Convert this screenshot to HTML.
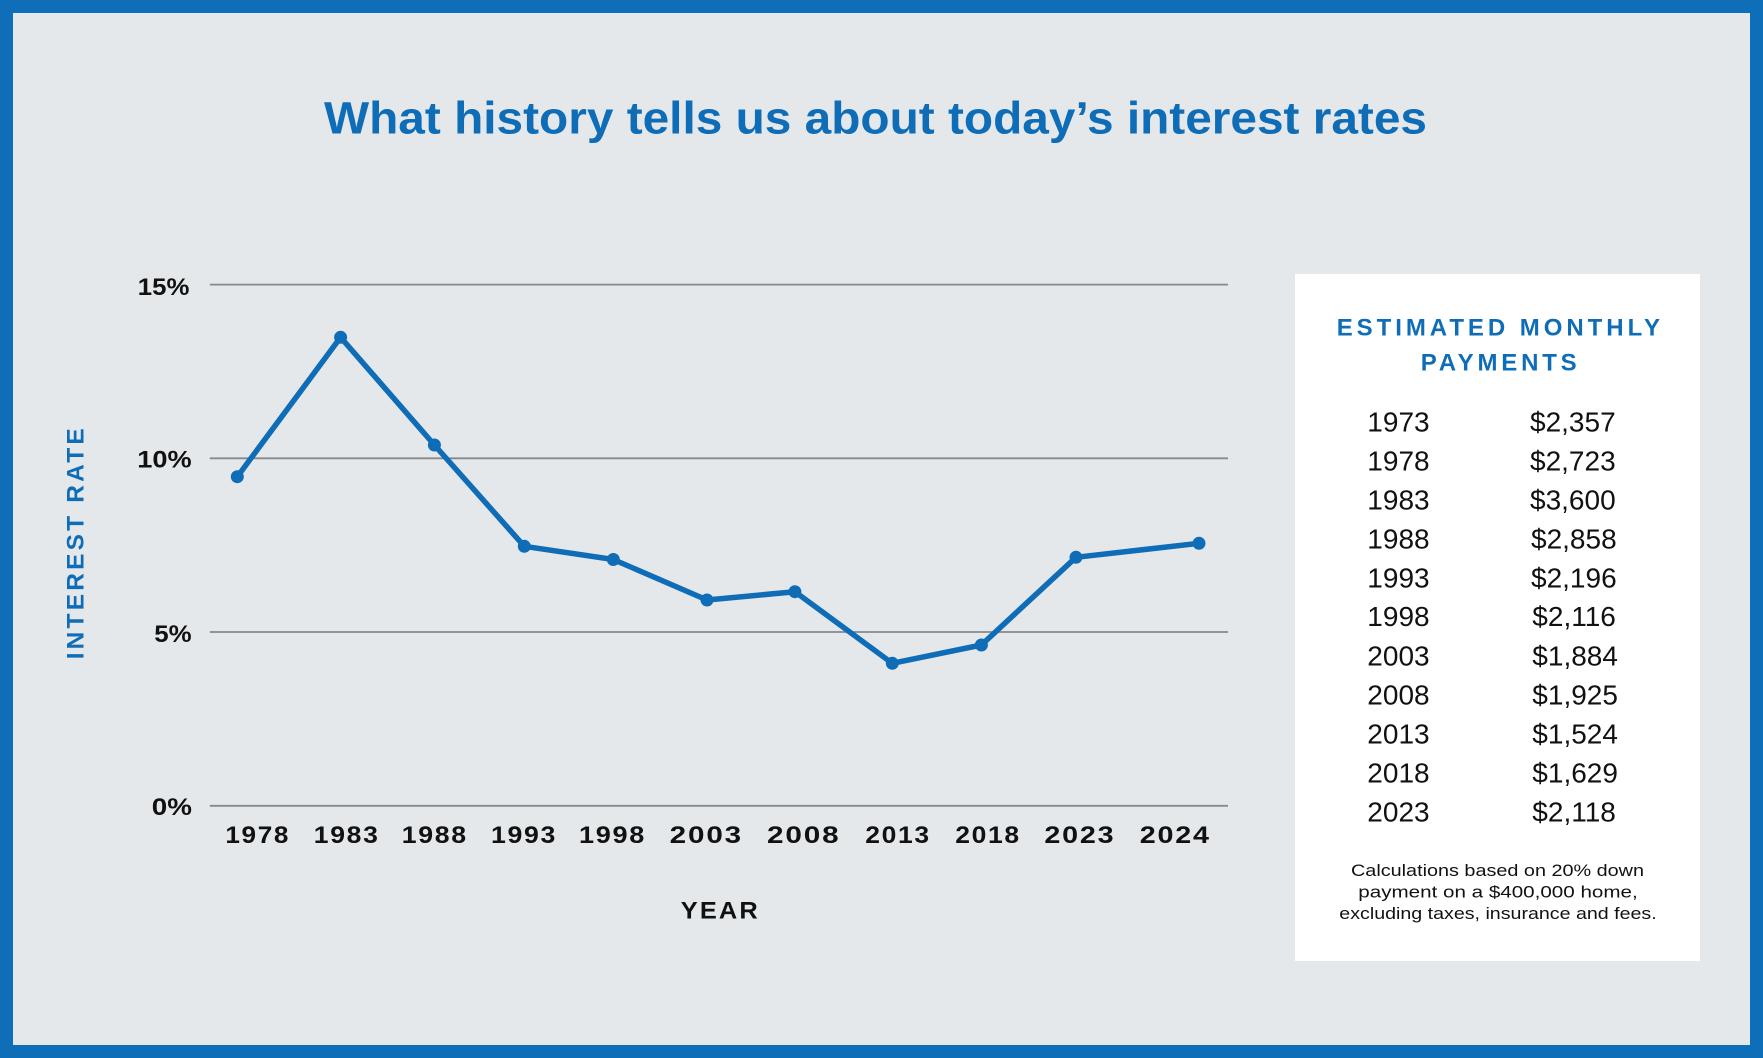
<!DOCTYPE html>
<html>
<head>
<meta charset="utf-8">
<style>
  html,body{margin:0;padding:0;background:#0f6eb8;}
  svg{display:block;}
  text{font-family:"Liberation Sans",Arial,sans-serif;}
</style>
</head>
<body>
<svg width="1763" height="1058" viewBox="0 0 1763 1058" xmlns="http://www.w3.org/2000/svg">
  <rect x="0" y="0" width="1763" height="1058" fill="#0f6eb8"/>
  <rect x="13" y="13" width="1737" height="1032" fill="#e4e8eb"/>

  <!-- Title -->
  <text x="324" y="133.3" font-size="45" font-weight="bold" fill="#0f6db7" textLength="1103" lengthAdjust="spacingAndGlyphs">What history tells us about today’s interest rates</text>

  <!-- Gridlines -->
  <g stroke="#86898c" stroke-width="1.8">
    <line x1="209.8" y1="284.6" x2="1228" y2="284.6"/>
    <line x1="209.8" y1="458.3" x2="1228" y2="458.3"/>
    <line x1="209.8" y1="632" x2="1228" y2="632"/>
    <line x1="209.8" y1="805.8" x2="1228" y2="805.8"/>
  </g>

  <!-- Y tick labels -->
  <g font-size="24.5" font-weight="bold" fill="#111">
    <text x="137.8" y="295" textLength="51.6" lengthAdjust="spacingAndGlyphs">15%</text>
    <text x="137.3" y="467.7" textLength="54.4" lengthAdjust="spacingAndGlyphs">10%</text>
    <text x="154.3" y="642" textLength="37.4" lengthAdjust="spacingAndGlyphs">5%</text>
    <text x="151.8" y="815" textLength="40.2" lengthAdjust="spacingAndGlyphs">0%</text>
  </g>

  <!-- Y axis title -->
  <text transform="translate(83.3,659.3) rotate(-90)" x="0" y="0" font-size="24.5" font-weight="bold" fill="#0f6db7" textLength="231" lengthAdjust="spacing">INTEREST RATE</text>

  <!-- X tick labels -->
  <g font-size="24" font-weight="bold" fill="#111" letter-spacing="1.5">
    <text x="225.4" y="843" textLength="64.6" lengthAdjust="spacingAndGlyphs">1978</text>
    <text x="313.8" y="843" textLength="65.7" lengthAdjust="spacingAndGlyphs">1983</text>
    <text x="401.8" y="843" textLength="66" lengthAdjust="spacingAndGlyphs">1988</text>
    <text x="491" y="843" textLength="66" lengthAdjust="spacingAndGlyphs">1993</text>
    <text x="579" y="843" textLength="67" lengthAdjust="spacingAndGlyphs">1998</text>
    <text x="669.7" y="843" textLength="73.3" lengthAdjust="spacingAndGlyphs">2003</text>
    <text x="767" y="843" textLength="73.5" lengthAdjust="spacingAndGlyphs">2008</text>
    <text x="865.3" y="843" textLength="65.5" lengthAdjust="spacingAndGlyphs">2013</text>
    <text x="955.3" y="843" textLength="65.5" lengthAdjust="spacingAndGlyphs">2018</text>
    <text x="1044.4" y="843" textLength="71" lengthAdjust="spacingAndGlyphs">2023</text>
    <text x="1139.8" y="843" textLength="71" lengthAdjust="spacingAndGlyphs">2024</text>
  </g>

  <!-- X axis title -->
  <text x="680.8" y="918.3" font-size="24" font-weight="bold" fill="#111" letter-spacing="2" textLength="79" lengthAdjust="spacingAndGlyphs">YEAR</text>

  <!-- Series -->
  <polyline fill="none" stroke="#0f6db7" stroke-width="5.5" stroke-linejoin="round" stroke-linecap="round"
    points="237.3,476.7 340.6,337.3 434.4,445 524.3,546.3 613.3,559.5 707,600 794.9,591.7 892.3,663.3 981.4,645 1076,557.3 1199,543.3"/>
  <g fill="#0f6db7">
    <circle cx="237.3" cy="476.7" r="6.5"/>
    <circle cx="340.6" cy="337.3" r="6.5"/>
    <circle cx="434.4" cy="445" r="6.5"/>
    <circle cx="524.3" cy="546.3" r="6.5"/>
    <circle cx="613.3" cy="559.5" r="6.5"/>
    <circle cx="707" cy="600" r="6.5"/>
    <circle cx="794.9" cy="591.7" r="6.5"/>
    <circle cx="892.3" cy="663.3" r="6.5"/>
    <circle cx="981.4" cy="645" r="6.5"/>
    <circle cx="1076" cy="557.3" r="6.5"/>
    <circle cx="1199" cy="543.3" r="6.5"/>
  </g>

  <!-- Right panel -->
  <rect x="1295" y="274" width="405" height="687" fill="#ffffff"/>
  <g font-size="24" font-weight="bold" fill="#0f6db7">
    <text x="1336.7" y="335.7" textLength="323.3" lengthAdjust="spacing">ESTIMATED MONTHLY</text>
    <text x="1420.7" y="370.7" textLength="156" lengthAdjust="spacing">PAYMENTS</text>
  </g>

  <g font-size="28" fill="#111">
    <text x="1367.3" y="431.7">1973</text>
    <text x="1367.3" y="470.6">1978</text>
    <text x="1367.3" y="509.5">1983</text>
    <text x="1367.3" y="548.4">1988</text>
    <text x="1367.3" y="587.3">1993</text>
    <text x="1367.3" y="626.2">1998</text>
    <text x="1367.3" y="665.6">2003</text>
    <text x="1367.3" y="704.5">2008</text>
    <text x="1367.3" y="743.4">2013</text>
    <text x="1367.3" y="782.3">2018</text>
    <text x="1367.3" y="821.5">2023</text>

    <text x="1530" y="431.7">$2,357</text>
    <text x="1530" y="470.6">$2,723</text>
    <text x="1530" y="509.5">$3,600</text>
    <text x="1531" y="548.4">$2,858</text>
    <text x="1531" y="587.3">$2,196</text>
    <text x="1532.3" y="626.2">$2,116</text>
    <text x="1532.3" y="665.6">$1,884</text>
    <text x="1532.3" y="704.5">$1,925</text>
    <text x="1532.3" y="743.4">$1,524</text>
    <text x="1532.3" y="782.3">$1,629</text>
    <text x="1532.3" y="821.5">$2,118</text>
  </g>

  <g font-size="16.8" fill="#111">
    <text x="1351" y="876" textLength="293" lengthAdjust="spacingAndGlyphs">Calculations based on 20% down</text>
    <text x="1358.3" y="897.5" textLength="279.4" lengthAdjust="spacingAndGlyphs">payment on a $400,000 home,</text>
    <text x="1339.3" y="919" textLength="317.4" lengthAdjust="spacingAndGlyphs">excluding taxes, insurance and fees.</text>
  </g>
</svg>
</body>
</html>
